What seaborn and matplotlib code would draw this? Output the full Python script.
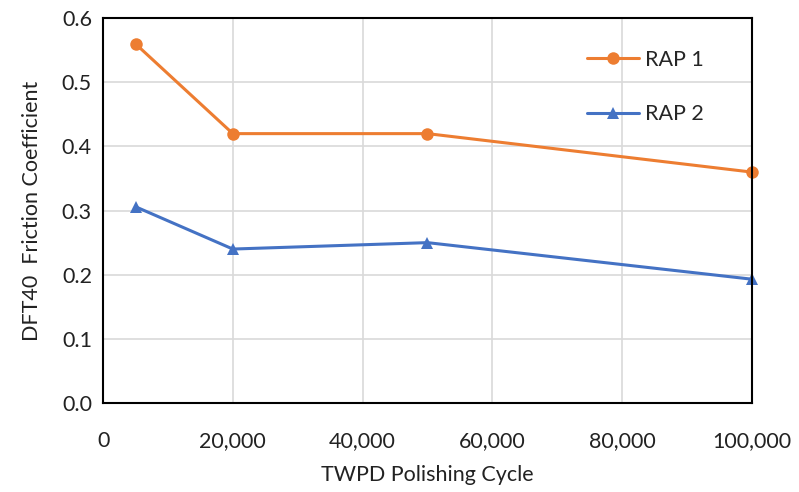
import seaborn as sns
import matplotlib.pyplot as plt
import pandas as pd
from matplotlib.ticker import FuncFormatter

cycles = [5000, 20000, 50000, 100000]
rap1 = [0.56, 0.42, 0.42, 0.36]
rap2 = [0.306, 0.24, 0.25, 0.193]

df = pd.DataFrame({'cycle': cycles * 2,
                   'friction': rap1 + rap2,
                   'mix': ['RAP 1'] * 4 + ['RAP 2'] * 4})

sns.set_style('white')
plt.rcParams['font.family'] = ['Lato', 'DejaVu Sans']

fig = plt.figure(figsize=(7.99, 4.92), dpi=100)
ax = fig.add_axes([0.129, 0.181, 0.812, 0.782])

sns.lineplot(data=df, x='cycle', y='friction', hue='mix', style='mix',
             palette={'RAP 1': '#ED7D31', 'RAP 2': '#4472C4'},
             markers={'RAP 1': 'o', 'RAP 2': '^'}, dashes=False,
             markersize=9, markeredgewidth=0, linewidth=2.2, ax=ax, clip_on=False)

fs = 15.5
ax.set_xlim(0, 100000)
ax.set_ylim(0, 0.6)
ax.set_xticks([0, 20000, 40000, 60000, 80000, 100000])
ax.set_yticks([0, 0.1, 0.2, 0.3, 0.4, 0.5, 0.6])
ax.xaxis.set_major_formatter(FuncFormatter(lambda v, p: f'{int(v):,}'))
ax.yaxis.set_major_formatter(FuncFormatter(lambda v, p: f'{v:.1f}'))
ax.grid(True, color='#d9d9d9', linewidth=1.2)
ax.set_axisbelow(True)
for s in ax.spines.values():
    s.set_color('black')
    s.set_linewidth(1.5)
ax.tick_params(axis='both', length=0, labelsize=fs, colors='#222222')
ax.tick_params(axis='x', pad=20)
ax.tick_params(axis='y', pad=8)

ax.set_xlabel('TWPD Polishing Cycle', fontsize=fs, color='#222222', labelpad=10)
ax.set_ylabel('DFT40  Friction Coefficient', fontsize=fs, color='#222222', labelpad=14)

leg = ax.legend(title=None, frameon=False, loc='upper right',
                bbox_to_anchor=(0.955, 0.968), fontsize=fs,
                labelspacing=1.6, handlelength=2.4, handletextpad=0.25)

fig.savefig('out.png', dpi=100)
